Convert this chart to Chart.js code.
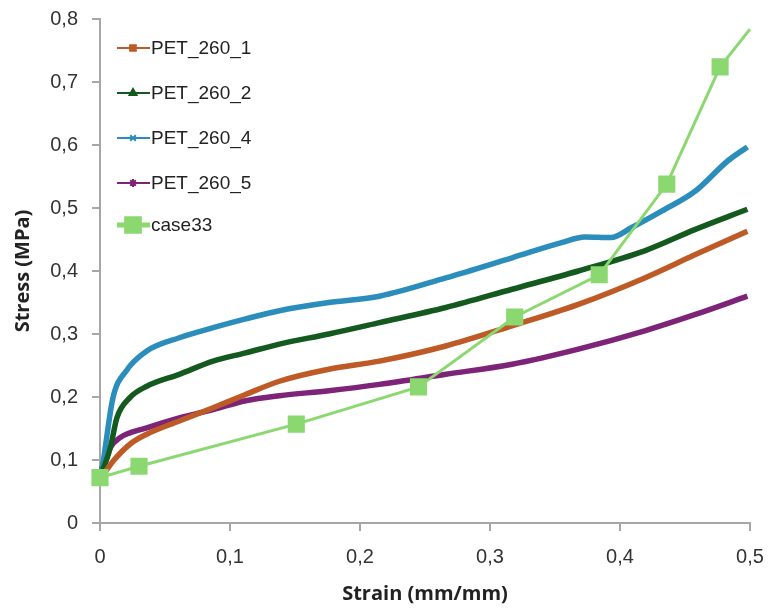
<!DOCTYPE html>
<html>
<head>
<meta charset="utf-8">
<script src="https://cdn.jsdelivr.net/npm/chart.js@4/dist/chart.umd.min.js"></script>
<style>
  html, body { margin: 0; padding: 0; background: #fff; }
  #wrap { width: 770px; height: 609px; }
</style>
</head>
<body>
<div id="wrap"><canvas id="chart" width="770" height="609"></canvas></div>
<script>
// strain (mm/mm) / stress (MPa)
const pet1Strain = [0, 0.0025, 0.010, 0.023, 0.036, 0.061, 0.087, 0.112, 0.138, 0.176, 0.215, 0.266, 0.317, 0.368, 0.419, 0.458, 0.498];
const pet1Stress = [0.072, 0.077, 0.098, 0.125, 0.141, 0.162, 0.183, 0.204, 0.225, 0.244, 0.257, 0.281, 0.313, 0.347, 0.389, 0.426, 0.463];

const pet2Strain = [0, 0.008, 0.013, 0.023, 0.036, 0.061, 0.087, 0.112, 0.138, 0.176, 0.215, 0.266, 0.317, 0.368, 0.419, 0.458, 0.498];
const pet2Stress = [0.072, 0.120, 0.167, 0.199, 0.217, 0.236, 0.257, 0.270, 0.284, 0.300, 0.318, 0.342, 0.371, 0.400, 0.432, 0.466, 0.498];

const pet4Strain = [0, 0.0013, 0.010, 0.020, 0.036, 0.061, 0.087, 0.112, 0.138, 0.176, 0.215, 0.266, 0.317, 0.355, 0.373, 0.393, 0.409, 0.432, 0.458, 0.483, 0.498];
const pet4Stress = [0.072, 0.083, 0.199, 0.241, 0.273, 0.294, 0.310, 0.324, 0.337, 0.350, 0.360, 0.389, 0.421, 0.445, 0.454, 0.453, 0.469, 0.495, 0.527, 0.575, 0.597];

const pet5Strain = [0, 0.001, 0.008, 0.015, 0.036, 0.061, 0.087, 0.112, 0.138, 0.176, 0.215, 0.266, 0.317, 0.368, 0.419, 0.458, 0.498];
const pet5Stress = [0.072, 0.083, 0.120, 0.135, 0.151, 0.167, 0.180, 0.194, 0.202, 0.210, 0.220, 0.236, 0.252, 0.276, 0.305, 0.331, 0.360];

const caseStrain = [0, 0.030, 0.151, 0.245, 0.319, 0.384, 0.436, 0.477, 0.5];
const caseStress = [0.072, 0.090, 0.157, 0.216, 0.327, 0.394, 0.538, 0.724, 0.784];

const xTicks = [0, 0.1, 0.2, 0.3, 0.4, 0.5];
const yTicks = [0, 0.1, 0.2, 0.3, 0.4, 0.5, 0.6, 0.7, 0.8];

const seriesNames = ['PET_260_1', 'PET_260_2', 'PET_260_4', 'PET_260_5', 'case33'];
const seriesColors = ['#bd5a26', '#145a1e', '#2a8dbb', '#7d2478', '#8cd870'];
const seriesMarkers = ['rect', 'triangle', 'crossRot', 'star', 'rect'];

function pts(xs, ys) {
  return xs.map((x, i) => ({ x: x, y: ys[i] }));
}

const comma = v => String(Math.round(v * 10) / 10).replace('.', ',');

// legend drawn inside the plot: short line with its marker, then the name
const insideLegend = {
  id: 'insideLegend',
  afterDraw(chart) {
    const ctx = chart.ctx;
    const left = chart.chartArea.left + 17;
    ctx.save();
    ctx.font = '19px "Liberation Sans", Arial, sans-serif';
    ctx.textBaseline = 'middle';
    seriesNames.forEach((name, i) => {
      const y = 48 + i * 45 - (i === 4 ? 3 : 0);
      const big = i === 4;
      ctx.strokeStyle = seriesColors[i];
      ctx.lineWidth = big ? 5 : 2;
      ctx.beginPath();
      ctx.moveTo(left, y);
      ctx.lineTo(left + 33, y);
      ctx.stroke();
      Chart.helpers.drawPoint(ctx, {
        pointStyle: seriesMarkers[i],
        radius: big ? 9 : 4,
        rotation: 0,
        borderWidth: 2
      }, left + 16, y);
      ctx.fillStyle = seriesColors[i];
      if (seriesMarkers[i] !== 'crossRot' && seriesMarkers[i] !== 'star') {
        ctx.fill();
      }
      ctx.fillStyle = '#222';
      ctx.fillText(name, left + 34, y + 1);
    });
    ctx.restore();
  }
};

function curve(i, xs, ys) {
  return {
    label: seriesNames[i],
    data: pts(xs, ys),
    borderColor: seriesColors[i],
    backgroundColor: seriesColors[i],
    borderWidth: 5.5,
    pointRadius: 0,
    showLine: true,
    cubicInterpolationMode: 'monotone'
  };
}

const caseSet = curve(4, caseStrain, caseStress);
caseSet.borderWidth = 3;
caseSet.cubicInterpolationMode = 'default';
caseSet.tension = 0;
caseSet.pointStyle = 'rect';
// the last point sits on the plot edge, no marker drawn there
caseSet.pointRadius = caseStrain.map((x, j) => j === caseStrain.length - 1 ? 0 : 10);
caseSet.order = -1;

const tickFont = { family: '"Liberation Sans", Arial, sans-serif', size: 20 };
const titleFont = { family: '"Open Sans", Lato, sans-serif', size: 20, weight: 'bold' };

new Chart(document.getElementById('chart'), {
  type: 'scatter',
  data: {
    datasets: [
      caseSet,
      curve(0, pet1Strain, pet1Stress),
      curve(1, pet2Strain, pet2Stress),
      curve(2, pet4Strain, pet4Stress),
      curve(3, pet5Strain, pet5Stress)
    ]
  },
  options: {
    responsive: false,
    animation: false,
    clip: false,
    layout: { padding: { top: 19, right: 20, left: 0, bottom: 0 } },
    plugins: {
      legend: { display: false },
      tooltip: { enabled: false }
    },
    scales: {
      x: {
        type: 'linear',
        min: 0,
        max: 0.5,
        afterBuildTicks: s => { s.ticks = xTicks.map(v => ({ value: v })); },
        afterFit: s => { s.height = 86; s.paddingLeft = 0; s.paddingRight = 0; },
        border: { color: '#a6a6a6', width: 2 },
        grid: { drawOnChartArea: false, tickLength: 8, color: '#a6a6a6', lineWidth: 2 },
        ticks: {
          padding: 14,
          color: '#333',
          font: tickFont,
          callback: v => comma(v)
        },
        title: {
          display: true,
          text: 'Strain (mm/mm)',
          color: '#222',
          font: titleFont,
          padding: { bottom: 3 }
        }
      },
      y: {
        min: 0,
        max: 0.8,
        afterBuildTicks: s => { s.ticks = yTicks.map(v => ({ value: v })); },
        afterFit: s => { s.width = 100; s.paddingTop = 0; s.paddingBottom = 0; },
        border: { color: '#a6a6a6', width: 2 },
        grid: { drawOnChartArea: false, tickLength: 8, color: '#a6a6a6', lineWidth: 2 },
        ticks: {
          padding: 14,
          color: '#333',
          font: tickFont,
          callback: v => comma(v)
        },
        title: {
          display: true,
          text: 'Stress (MPa)',
          color: '#222',
          font: titleFont,
          padding: { top: 11 }
        }
      }
    }
  },
  plugins: [insideLegend]
});
</script>
</body>
</html>
